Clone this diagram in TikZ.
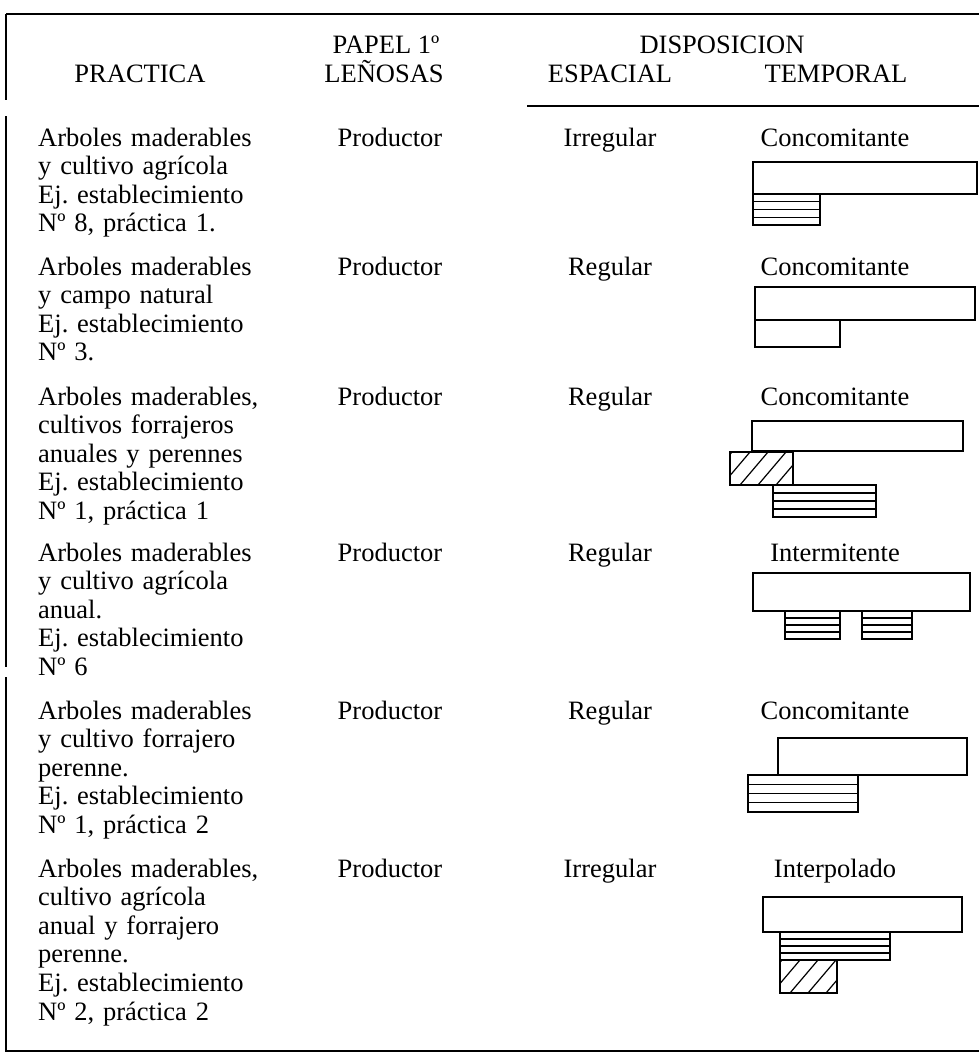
\documentclass[tikz,border=0pt]{standalone}
\usepackage{fontspec}
\setmainfont{Liberation Serif}
\usepackage{tikz}
\usetikzlibrary{positioning}
\frenchspacing
\tikzstyle{celda} = [inner sep=0pt, anchor=base,
font=\fontsize{26.5}{28.6}\selectfont]
\tikzstyle{practica} = [celda, anchor=base west,
text width=260pt,
align=left]
\tikzstyle{borde} = [line width=1.7pt]
\tikzstyle{caja} = [draw=black, line width=1.6pt]
\tikzstyle{raya} = [line width=1.2pt]
% bloque con rayas horizontales
\newcommand{\franjas}[4]{%
  \draw[caja] (#1,#2) rectangle (#3,#4);
  \foreach \k in {1,2,3}
    \draw[raya] (#1,{#2+\k*(#4-#2)/4}) -- (#3,{#2+\k*(#4-#2)/4});
}
% bloque con rayas oblicuas
\newcommand{\oblicuas}[4]{%
  \begin{scope}
    \clip (#1,#2) rectangle (#3,#4);
    \foreach \hx in {-26,-8,...,80}
      \draw[raya] ({#1+\hx},#4) -- ({#1+\hx+28},#2);
  \end{scope}
  \draw[caja] (#1,#2) rectangle (#3,#4);
}

\begin{document}
\begin{tikzpicture}[x=1pt, y=-1pt]
            \useasboundingbox (0,0) rectangle (979,1053);

            % marco
            \draw [borde] (6,14) -- (979,14);
            \draw [borde] (6,14) -- (6,100);
            \draw [borde] (6,116) -- (6,667);
            \draw [borde] (6,677) -- (6,1051) -- (979,1051);
            \draw [borde] (527,106) -- (979,106);

            % encabezado
            \node (hpractica) [celda] at (140,82) {PRACTICA};
            \node (hpapel) [celda] at (386,53) {PAPEL 1º};
            \node (hlenosas) [celda] at (384,82) {LEÑOSAS};
            \node (hdisp) [celda] at (722,53) {DISPOSICION};
            \node (hesp) [celda] at (610,82) {ESPACIAL};
            \node (htemp) [celda] at (836,82) {TEMPORAL};

            % fila 1
            \node (prac1) [practica] at (38,146) {Arboles maderables\\y cultivo agrícola\\Ej. establecimiento\\Nº 8, práctica 1.};
            \node (papel1) [celda] at (390,146) {Productor};
            \node (esp1) [celda] at (610,146) {Irregular};
            \node (temp1) [celda] at (835,146) {Concomitante};
            \draw [caja] (753,162) rectangle (977,194);
            \franjas{753}{194}{820}{225}

            % fila 2
            \node (prac2) [practica] at (38,275) {Arboles maderables\\y campo natural\\Ej. establecimiento\\Nº 3.};
            \node (papel2) [celda] at (390,275) {Productor};
            \node (esp2) [celda] at (610,275) {Regular};
            \node (temp2) [celda] at (835,275) {Concomitante};
            \draw [caja] (755,287) rectangle (975,320);
            \draw [caja] (755,320) rectangle (840,347);

            % fila 3
            \node (prac3) [practica] at (38,405) {Arboles maderables,\\cultivos forrajeros\\anuales y perennes\\Ej. establecimiento\\Nº 1, práctica 1};
            \node (papel3) [celda] at (390,405) {Productor};
            \node (esp3) [celda] at (610,405) {Regular};
            \node (temp3) [celda] at (835,405) {Concomitante};
            \draw [caja] (752,421) rectangle (963,451);
            \oblicuas{730}{452}{793}{485}
            \franjas{773}{485}{876}{517}

            % fila 4
            \node (prac4) [practica] at (38,561) {Arboles maderables\\y cultivo agrícola\\anual.\\Ej. establecimiento\\Nº 6};
            \node (papel4) [celda] at (390,561) {Productor};
            \node (esp4) [celda] at (610,561) {Regular};
            \node (temp4) [celda] at (835,561) {Intermitente};
            \draw [caja] (753,573) rectangle (970,611);
            \franjas{785}{611}{840}{639}
            \franjas{862}{611}{912}{639}

            % fila 5
            \node (prac5) [practica] at (38,719) {Arboles maderables\\y cultivo forrajero\\perenne.\\Ej. establecimiento\\Nº 1, práctica 2};
            \node (papel5) [celda] at (390,719) {Productor};
            \node (esp5) [celda] at (610,719) {Regular};
            \node (temp5) [celda] at (835,719) {Concomitante};
            \draw [caja] (778,738) rectangle (967,775);
            \franjas{748}{775}{858}{812}

            % fila 6
            \node (prac6) [practica] at (38,877) {Arboles maderables,\\cultivo agrícola\\anual y forrajero\\perenne.\\Ej. establecimiento\\Nº 2, práctica 2};
            \node (papel6) [celda] at (390,877) {Productor};
            \node (esp6) [celda] at (610,877) {Irregular};
            \node (temp6) [celda] at (835,877) {Interpolado};
            \draw [caja] (763,897) rectangle (962,932);
            \franjas{780}{932}{890}{960}
            \oblicuas{780}{960}{837}{993}
        \end{tikzpicture}
\end{document}
